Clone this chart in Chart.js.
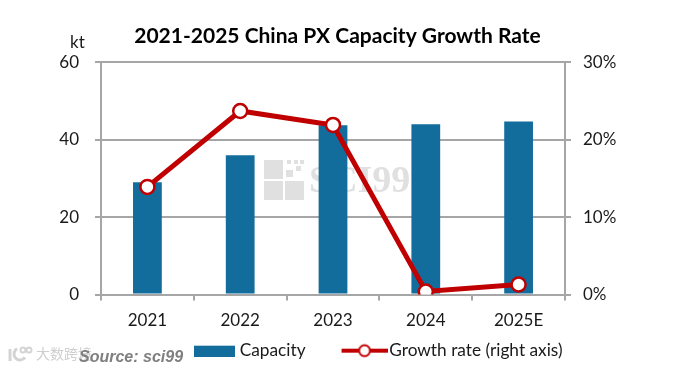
<!DOCTYPE html>
<html>
<head>
<meta charset="utf-8">
<script src="https://cdn.jsdelivr.net/npm/chart.js@4/dist/chart.umd.min.js"></script>
<style>
  html, body { margin: 0; padding: 0; background: #fff; }
  canvas { display: block; }
</style>
</head>
<body>
<canvas id="myChart" width="690" height="370"></canvas>
<script>
// Values
const years = ['2021', '2022', '2023', '2024', '2025E'];
const capacity = [29, 36, 43.7, 44, 44.7];
const growthRate = [13.9, 23.7, 21.9, 0.4, 1.3];

const barColor = '#126d9c';
const lineColor = '#c00000';
const axisColor = '#a6a6a6';
const textColor = '#1a1a1a';
const fontName = 'Lato, Carlito, sans-serif';

// Legend swatches, the built-in point legend can draw a canvas as its symbol
function barSwatch() {
  const c = document.createElement('canvas');
  c.width = 46; c.height = 12;
  const g = c.getContext('2d');
  g.fillStyle = barColor;
  g.fillRect(5, 1, 41, 11);
  return c;
}
function lineSwatch() {
  const c = document.createElement('canvas');
  c.width = 52; c.height = 16;
  const g = c.getContext('2d');
  g.strokeStyle = lineColor;
  g.lineWidth = 4;
  g.beginPath(); g.moveTo(6, 8); g.lineTo(52, 8); g.stroke();
  g.fillStyle = '#fff';
  g.lineWidth = 2;
  g.beginPath(); g.arc(29, 8, 5.5, 0, Math.PI * 2); g.fill(); g.stroke();
  return c;
}
const swatches = [barSwatch(), lineSwatch()];

// Watermark goes behind the bars
const watermark = {
  id: 'watermark',
  beforeDatasetsDraw(chart) {
    const g = chart.ctx;
    g.save();
    g.fillStyle = '#e0e0e0';
    [[264, 160, 19, 19], [264, 181, 19, 19], [285, 181, 19, 19], [286, 170, 7, 7], [296, 166, 5, 5], [287, 160, 4, 4], [294, 160, 4, 4], [300, 160, 4, 4]].forEach(r => g.fillRect(r[0], r[1], r[2], r[3]));
    g.font = 'bold 38px "Liberation Serif", serif';
    g.textBaseline = 'middle';
    g.fillText('SCI99', 309, 182);
    g.restore();
  }
};

// Extra text and legend placement
const extras = {
  id: 'extras',
  afterInit(chart) {
    // large item padding also makes the legend tall, keep its box small for the layout
    const origFit = chart.legend.fit;
    chart.legend.fit = function() {
      origFit.call(this);
      this.height = 22;
    };
  },
  afterLayout(chart) {
    chart.legend.left = 156;
    chart.legend.right = 720;
    chart.legend.top = 305;
  },
  afterDraw(chart) {
    const g = chart.ctx;
    g.save();
    g.textBaseline = 'middle';
    g.fillStyle = textColor;
    g.font = '17px ' + fontName;
    g.fillText('kt', 70, 43);
    // corner logo
    g.strokeStyle = '#d4d4d4';
    g.lineWidth = 3;
    g.beginPath(); g.moveTo(10, 349); g.lineTo(10, 361); g.stroke();
    g.beginPath(); g.arc(20, 354, 6, 0.6, 4.2); g.stroke();
    g.lineWidth = 2;
    g.beginPath(); g.arc(23, 350, 2.5, 0, Math.PI * 2); g.stroke();
    g.beginPath(); g.arc(29, 350, 2.5, 0, Math.PI * 2); g.stroke();
    g.fillStyle = '#cfcfcf';
    g.font = '14px "Noto Sans CJK SC"';
    g.fillText('大数跨境', 36, 354);
    g.fillStyle = '#7f7f7f';
    g.font = 'italic bold 16px "Liberation Sans", sans-serif';
    g.fillText('Source: sci99', 79, 358);
    g.restore();
  }
};

const ctx = document.getElementById('myChart');
const myChart = new Chart(ctx, {
  data: {
    labels: years,
    datasets: [
      {
        type: 'line',
        label: 'Growth rate (right axis)',
        data: growthRate,
        yAxisID: 'y2',
        borderColor: lineColor,
        borderWidth: 5,
        backgroundColor: '#fff',
        pointRadius: 7,
        pointBorderWidth: 2.5,
        pointBorderColor: lineColor,
        pointBackgroundColor: '#fff',
        order: 1
      },
      {
        type: 'bar',
        label: 'Capacity',
        data: capacity,
        yAxisID: 'y',
        backgroundColor: barColor,
        barPercentage: 0.31,
        categoryPercentage: 1,
        order: 2
      }
    ]
  },
  options: {
    responsive: false,
    animation: false,
    layout: { padding: { left: 50, right: 65, top: 0, bottom: 7 } },
    plugins: {
      title: {
        display: true,
        text: '2021-2025 China PX Capacity Growth Rate',
        color: '#000',
        font: { family: fontName, size: 21, weight: 'bold' },
        padding: { top: 24, bottom: 13 }
      },
      legend: {
        position: 'bottom',
        align: 'start',
        labels: {
          color: textColor,
          font: { family: fontName, size: 17.3 },
          usePointStyle: true,
          pointStyleWidth: 38,
          padding: 37,
          generateLabels(chart) {
            return [1, 0].map((i, n) => ({
              text: chart.data.datasets[i].label,
              pointStyle: swatches[n],
              fontColor: textColor,
              datasetIndex: i
            }));
          }
        }
      },
      tooltip: { enabled: false }
    },
    scales: {
      x: {
        offset: true,
        grid: { offset: true, drawOnChartArea: false, color: axisColor, lineWidth: 2, tickLength: 6 },
        border: { color: axisColor, width: 2 },
        ticks: { color: textColor, font: { family: fontName, size: 17 }, padding: 10, maxRotation: 0 }
      },
      y: {
        position: 'left',
        min: 0,
        max: 60,
        afterFit(scale) { scale.width = 51; },
        grid: { color: axisColor, lineWidth: 2, tickLength: 6 },
        border: { color: axisColor, width: 2 },
        ticks: { stepSize: 20, color: textColor, font: { family: fontName, size: 17 }, padding: 16 }
      },
      y2: {
        position: 'right',
        min: 0,
        max: 30,
        afterFit(scale) { scale.width = 60; },
        grid: { drawOnChartArea: false, color: axisColor, lineWidth: 2, tickLength: 6 },
        border: { color: axisColor, width: 2 },
        ticks: { stepSize: 10, color: textColor, font: { family: fontName, size: 17 }, padding: 12, callback: v => v + '%' }
      }
    }
  },
  plugins: [watermark, extras]
});
</script>
</body>
</html>
